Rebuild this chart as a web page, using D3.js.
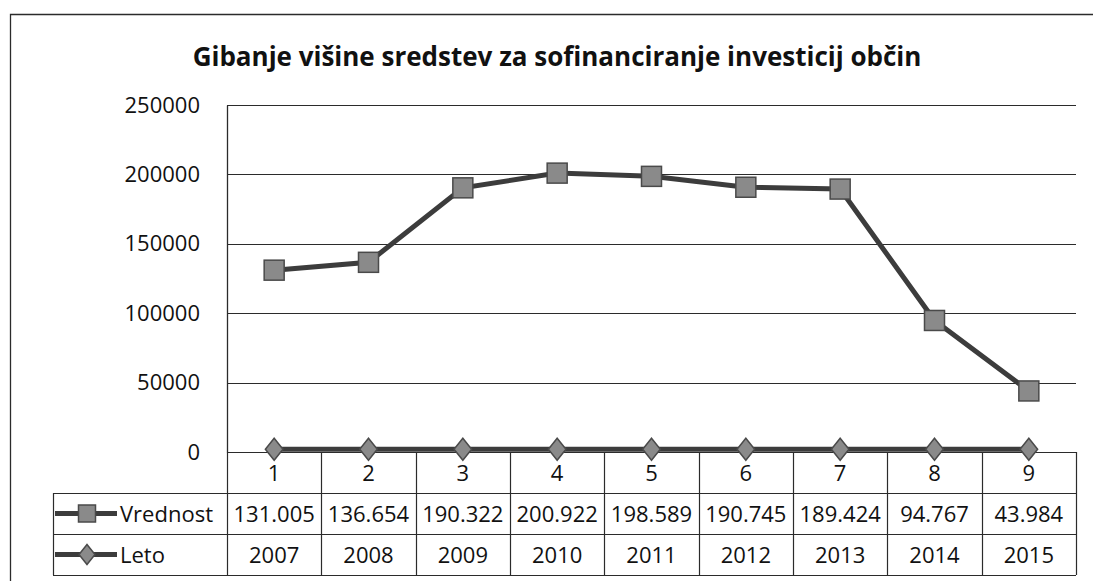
<!DOCTYPE html>
<html>
<head>
<meta charset="utf-8">
<script src="https://cdn.jsdelivr.net/npm/d3@7"></script>
<style>
  body { margin: 0; background: #fff; }
  svg { display: block; font-family: 'Open Sans', sans-serif; }
</style>
</head>
<body>
<svg id="chart" width="1093" height="581"></svg>
<script>
const categories = ['1', '2', '3', '4', '5', '6', '7', '8', '9'];
const vrednost = [131005, 136654, 190322, 200922, 198589, 190745, 189424, 94767, 43984];
const vrednostLabels = ['131.005', '136.654', '190.322', '200.922', '198.589', '190.745', '189.424', '94.767', '43.984'];
const leto = [2007, 2008, 2009, 2010, 2011, 2012, 2013, 2014, 2015];
const yTicks = [0, 50000, 100000, 150000, 200000, 250000];
const chartTitle = 'Gibanje višine sredstev za sofinanciranje investicij občin';

const svg = d3.select('#chart');
const ink = '#2b2b2b';
const lineColor = '#3c3c3c';
const markerFill = '#8a8a8a';

const plot = {left: 227, right: 1076, top: 105, bottom: 452};
const rowH = [452, 493, 534, 575];
const legendLeft = 53;

const xScale = d3.scaleBand().domain(categories).range([plot.left, plot.right]);
const yScale = d3.scaleLinear().domain([0, 250000]).range([plot.bottom, plot.top]);
const cx = (d, i) => xScale(categories[i]) + xScale.bandwidth() / 2;

// outer chart border (top and left only visible)
svg.append('path')
    .attr('d', 'M10.5,581 L10.5,14.5 L1093,14.5')
    .attr('fill', 'none').attr('stroke', ink).attr('stroke-width', 1.3);

svg.append('text')
    .attr('x', 557).attr('y', 66)
    .attr('text-anchor', 'middle')
    .attr('font-size', 26).attr('font-weight', 'bold').attr('fill', '#111')
    .text(chartTitle);

// gridlines
svg.append('g').selectAll('line').data(yTicks).enter().append('line')
    .attr('x1', plot.left).attr('x2', plot.right)
    .attr('y1', d => Math.round(yScale(d)) + 0.5).attr('y2', d => Math.round(yScale(d)) + 0.5)
    .attr('stroke', ink).attr('stroke-width', 1.2);

const yAxis = d3.axisLeft(yScale).tickValues(yTicks).tickSize(0).tickPadding(27).tickFormat(d3.format('d'));
const yAxisGroup = svg.append('g').attr('transform', `translate(${plot.left},0)`).call(yAxis);
yAxisGroup.select('.domain').attr('stroke', ink).attr('stroke-width', 1.3);
yAxisGroup.selectAll('text').attr('font-size', 22).attr('fill', '#111').attr('font-family', "'Open Sans', sans-serif");

// data table
const table = svg.append('g');
const bounds = xScale.domain().map(c => xScale(c)).concat([plot.right]);
table.selectAll('line.v').data(bounds).enter().append('line')
    .attr('x1', d => Math.round(d) + 0.5).attr('x2', d => Math.round(d) + 0.5)
    .attr('y1', plot.bottom).attr('y2', rowH[3])
    .attr('stroke', ink).attr('stroke-width', 1.2);
table.append('line').attr('x1', legendLeft + 0.5).attr('x2', legendLeft + 0.5)
    .attr('y1', rowH[1]).attr('y2', rowH[3]).attr('stroke', ink).attr('stroke-width', 1.2);
table.selectAll('line.h').data(rowH.slice(1)).enter().append('line')
    .attr('x1', legendLeft).attr('x2', plot.right)
    .attr('y1', d => d + 0.5).attr('y2', d => d + 0.5)
    .attr('stroke', ink).attr('stroke-width', 1.2);

const rows = [categories, vrednostLabels, leto];
rows.forEach((row, r) => {
    table.selectAll(`text.r${r}`).data(row).enter().append('text')
        .attr('class', `r${r}`)
        .attr('x', cx)
        .attr('y', (rowH[r] + rowH[r + 1]) / 2 + 8)
        .attr('text-anchor', 'middle')
        .attr('font-size', 22).attr('fill', '#111')
        .text(d => d);
});

function drawMarker(g, shape, x, y, s) {
    if (shape === 'square') {
        g.append('rect').attr('x', x - s / 2).attr('y', y - s / 2).attr('width', s).attr('height', s)
            .attr('fill', markerFill).attr('stroke', '#4a4a4a').attr('stroke-width', 1.5);
    } else {
        const w = s * 0.4, h = s * 0.5;
        g.append('path').attr('d', `M${x},${y - h} L${x + w},${y} L${x},${y + h} L${x - w},${y} Z`)
            .attr('fill', markerFill).attr('stroke', '#4a4a4a').attr('stroke-width', 1.5);
    }
}

// legend cells
const legendItems = [{name: 'Vrednost', shape: 'square'}, {name: 'Leto', shape: 'diamond'}];
legendItems.forEach((item, i) => {
    const y = (rowH[i + 1] + rowH[i + 2]) / 2;
    table.append('line').attr('x1', 55).attr('x2', 117).attr('y1', y).attr('y2', y)
        .attr('stroke', lineColor).attr('stroke-width', 5);
    drawMarker(table, item.shape, 87, y, item.shape === 'square' ? 17 : 20);
    table.append('text').attr('x', 120).attr('y', y + 8)
        .attr('font-size', 22).attr('fill', '#111').text(item.name);
});

// series lines
const line = d3.line().x((d, i) => cx(d, i)).y(d => yScale(d));
const series = [{values: vrednost, shape: 'square'}, {values: leto, shape: 'diamond'}];
series.forEach(s => {
    svg.append('path').datum(s.values)
        .attr('d', line)
        .attr('fill', 'none').attr('stroke', lineColor).attr('stroke-width', 5);
    const g = svg.append('g');
    s.values.forEach((v, i) => drawMarker(g, s.shape, cx(v, i), yScale(v), s.shape === 'square' ? 20 : 22));
});
</script>
</body>
</html>
